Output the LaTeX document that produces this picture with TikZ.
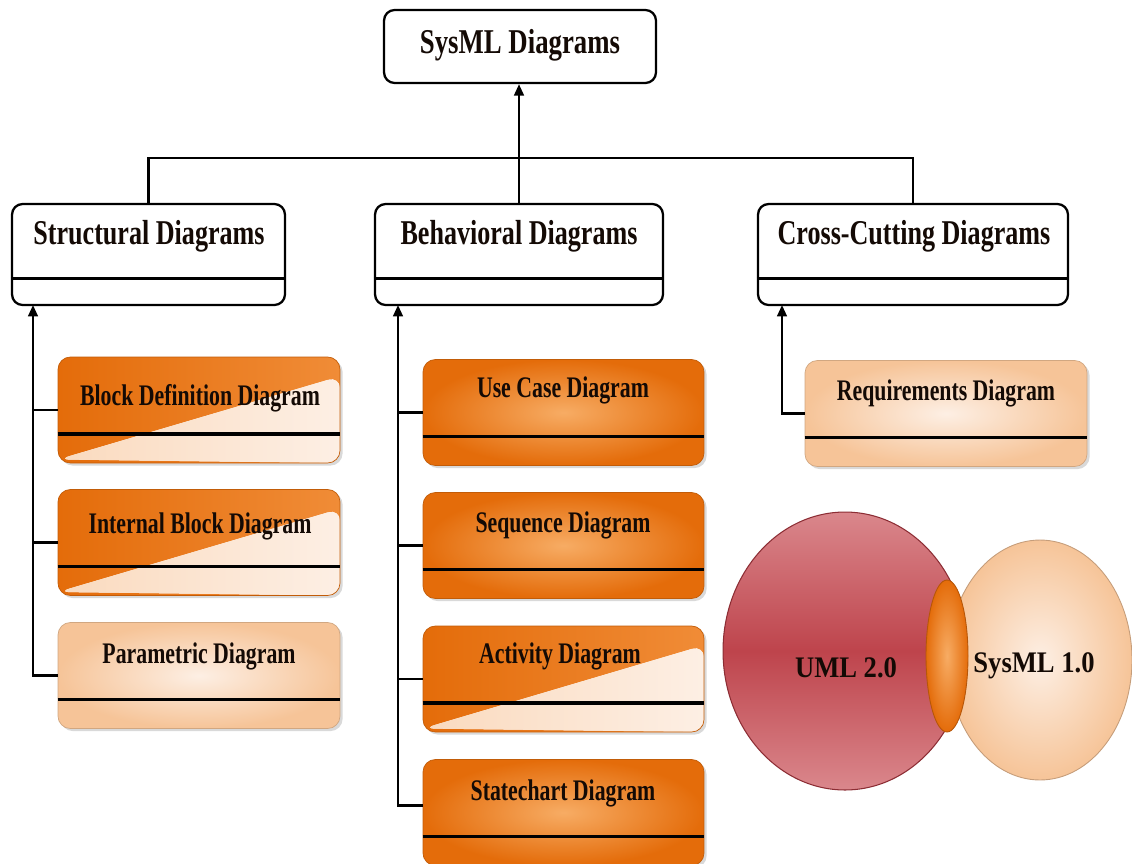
\documentclass[tikz,border=0pt]{standalone}
\usepackage{fontspec}
\setmainfont{Liberation Serif}
\usepackage{graphicx}
\usetikzlibrary{arrows.meta,shadows,calc,shapes.geometric}
\definecolor{orgD}{RGB}{228,108,10}
\definecolor{orgM}{RGB}{240,140,55}
\definecolor{orgL}{RGB}{247,172,100}
\definecolor{peaL}{RGB}{253,239,228}
\definecolor{peaM}{RGB}{250,218,190}
\definecolor{peaD}{RGB}{246,196,152}
\definecolor{umlD}{RGB}{190,68,76}
\definecolor{umlL}{RGB}{218,135,140}
\definecolor{umlE}{RGB}{140,45,52}
\definecolor{txt}{RGB}{20,10,5}
\newcommand{\hfont}{\fontsize{19.8}{22}\selectfont\bfseries}
\newcommand{\cfont}{\fontsize{17}{20}\selectfont\bfseries}
\newcommand{\sqz}[2]{\scalebox{#1}[1]{#2}}
\tikzset{
  hdr/.style={draw=black, line width=1.3pt, rounded corners=6pt, fill=white, inner sep=0pt},
  shd/.style={drop shadow={shadow xshift=1.5pt, shadow yshift=-1.5pt, opacity=0.3}},
  orangebox/.style={shd, rounded corners=7pt, inner sep=0pt, inner color=orgL, outer color=orgD,
     draw=orgD!85!black, line width=0.4pt, minimum height=2.12cm},
  peachbox/.style={shd, rounded corners=7pt, inner sep=0pt, inner color=peaL, outer color=peaD,
     draw=peaD!85!black, line width=0.4pt, minimum height=2.12cm},
  diagbox/.style={shd, rounded corners=7pt, inner sep=0pt, draw=orgD!85!black, line width=0.4pt,
     minimum height=2.12cm, fill=white,
     path picture={
       \fill[left color=orgD, right color=orgM] (path picture bounding box.south west) rectangle (path picture bounding box.north east);
       \fill[left color=peaM, right color=peaL]
         ($(path picture bounding box.south west)+(0,2pt)$) --
         ($(path picture bounding box.north east)+(0,-11pt)$) --
         (path picture bounding box.south east) -- cycle;
     }},
  lbl/.style={anchor=base, text=txt, inner sep=0pt},
  conn/.style={draw=black, line width=1.4pt},
  arr/.style={-{Triangle[length=6.5pt,width=5.5pt]}},
  divline/.style={draw=black, line width=1.8pt},
  hdiv/.style={draw=black, line width=1.3pt}
}
\begin{document}
\begin{tikzpicture}[x=0.02cm, y=-0.02cm]
\useasboundingbox (0,0) rectangle (1132,863);
% header boxes
\node[hdr, minimum width=5.44cm, minimum height=1.46cm] (sysml) at (520,46.5) {};
\node[hdr, minimum width=5.46cm, minimum height=2.02cm] (struct) at (148.5,254.5) {};
\node[hdr, minimum width=5.76cm, minimum height=2.02cm] (behav) at (519,254.5) {};
\node[hdr, minimum width=6.2cm, minimum height=2.02cm] (cross) at (913,254.5) {};
\foreach \n in {struct,behav,cross}
  \draw[hdiv] ([yshift=-43pt]\n.north west) -- ([yshift=-43pt]\n.north east);
\node[lbl] (tsysml) at (520,53) {\hfont\sqz{0.77}{SysML Diagrams}};
\node[lbl] (tstruct) at (149,244) {\hfont\sqz{0.75}{Structural Diagrams}};
\node[lbl] (tbehav) at (519,244) {\hfont\sqz{0.75}{Behavioral Diagrams}};
\node[lbl] (tcross) at (914,244) {\hfont\sqz{0.75}{Cross-Cutting Diagrams}};
% structural children
\node[diagbox, minimum width=5.64cm] (block) at (199,410) {};
\node[diagbox, minimum width=5.64cm] (internal) at (199,542.5) {};
\node[peachbox, minimum width=5.64cm] (param) at (199,675.5) {};
% behavioral children
\node[orangebox, minimum width=5.62cm] (usecase) at (563.5,412.5) {};
\node[orangebox, minimum width=5.62cm] (sequence) at (563.5,545.5) {};
\node[diagbox, minimum width=5.62cm] (activity) at (563.5,679) {};
\node[orangebox, minimum width=5.62cm] (state) at (563.5,812.5) {};
% cross-cutting child
\node[peachbox, minimum width=5.64cm] (req) at (946,413.5) {};
\foreach \n in {block,internal,param,usecase,sequence,activity,state,req}
  \draw[divline] ([yshift=-44pt]\n.north west) -- ([yshift=-44pt]\n.north east);
\node[lbl] (tblock) at (200,405) {\cfont\sqz{0.73}{Block Definition Diagram}};
\node[lbl] (tinternal) at (200,533) {\cfont\sqz{0.73}{Internal Block Diagram}};
\node[lbl] (tparam) at (199,663) {\cfont\sqz{0.73}{Parametric Diagram}};
\node[lbl] (tusecase) at (563,397) {\cfont\sqz{0.73}{Use Case Diagram}};
\node[lbl] (tsequence) at (563,532) {\cfont\sqz{0.73}{Sequence Diagram}};
\node[lbl] (tactivity) at (560,663) {\cfont\sqz{0.73}{Activity Diagram}};
\node[lbl] (tstate) at (563,800) {\cfont\sqz{0.73}{Statechart Diagram}};
\node[lbl] (treq) at (946,400) {\cfont\sqz{0.73}{Requirements Diagram}};
% connectors
\coordinate (bar) at (519,158);
\draw[conn] (struct.north) |- (bar) -| (cross.north);
\draw[conn,arr] (behav.north) -- (behav.north |- sysml.south);
\coordinate (sS) at (33,305);
\draw[conn,arr] (param.west) -| (sS);
\draw[conn] (block.west) -- (block.west -| sS);
\draw[conn] (internal.west) -- (internal.west -| sS);
\coordinate (sB) at (398,305);
\draw[conn,arr] ([yshift=4pt]state.west) -| (sB);
\draw[conn] (usecase.west) -- (usecase.west -| sB);
\draw[conn] (sequence.west) -- (sequence.west -| sB);
\draw[conn] (activity.west) -- (activity.west -| sB);
\coordinate (sC) at (782,305);
\draw[conn,arr] (req.west) -| (sC);
% Venn
\node[ellipse, minimum width=3.68cm, minimum height=4.8cm, inner color=peaL, outer color=peaD,
      draw=peaD!80!black, line width=0.5pt] (sysvenn) at (1040,660) {};
\node[ellipse, minimum width=4.88cm, minimum height=5.56cm, top color=umlL, bottom color=umlL, middle color=umlD,
      draw=umlE, line width=0.6pt] (umlvenn) at (845,651) {};
\node[ellipse, minimum width=0.84cm, minimum height=3.04cm, inner color=orgL, outer color=orgD,
      draw=orgD!80!black, line width=0.5pt] (overlap) at (947,656) {};
\node[lbl] (tuml) at (846,677) {\fontsize{17}{20}\selectfont\bfseries\sqz{0.89}{UML 2.0}};
\node[lbl] (tsysv) at (1034,672) {\fontsize{17}{20}\selectfont\bfseries\sqz{0.89}{SysML 1.0}};
\end{tikzpicture}
\end{document}
